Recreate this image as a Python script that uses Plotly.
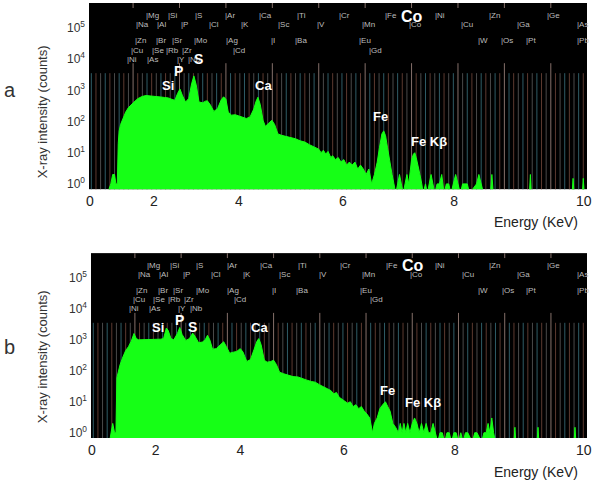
import plotly.graph_objects as go

# ---------------- data ----------------
energy_a = [0.45, 0.52, 0.56, 0.60, 0.63, 0.66, 0.68, 0.70, 0.73, 0.78, 0.84, 0.90, 0.96, 1.02, 1.10,
            1.20, 1.28, 1.36, 1.44, 1.52, 1.60, 1.68, 1.76, 1.84, 1.90, 1.96, 2.01, 2.06, 2.13, 2.20,
            2.26, 2.31, 2.36, 2.42, 2.50, 2.56, 2.60, 2.66, 2.74, 2.82, 2.90, 2.95, 3.00, 3.05, 3.12,
            3.20, 3.28, 3.36, 3.44, 3.52, 3.60, 3.65, 3.69, 3.74, 3.80, 3.85, 3.92, 3.99, 4.05, 4.12,
            4.20, 4.30, 4.40, 4.50, 4.60, 4.70, 4.80, 4.90, 5.00, 5.05, 5.10, 5.15, 5.20, 5.26, 5.30,
            5.36, 5.42, 5.48, 5.54, 5.60, 5.66, 5.72, 5.78, 5.84, 5.90, 5.96, 6.02, 6.08, 6.14, 6.20,
            6.26, 6.31, 6.36, 6.40, 6.44, 6.48, 6.53, 6.58, 6.62, 6.66, 6.70, 6.74, 6.78, 6.82, 6.86,
            6.90, 6.94, 6.97, 7.00, 7.04, 7.07, 7.10, 7.14, 7.18, 7.22, 7.25, 7.30, 7.34, 7.38, 7.42,
            7.46, 7.50, 7.55, 7.60, 7.65, 7.70, 7.75, 7.80, 7.85, 7.90, 7.95, 8.00, 8.05, 8.10, 8.20,
            8.25, 8.40, 8.45, 8.50, 8.55, 8.70, 8.73, 8.76, 9.54, 9.56, 9.58, 10.46, 10.48, 10.50,
            10.68, 10.70, 10.72]
counts_a = [0.5, 1, 2, 2, 1, 1, 20, 50, 80, 125, 200, 280, 350, 420, 540,
            640, 680, 670, 650, 630, 610, 590, 570, 510, 480, 800, 1100, 700, 420, 550,
            1600, 2900, 1500, 420, 400, 450, 460, 350, 210, 260, 500, 620, 520, 200, 160,
            165, 150, 140, 125, 140, 250, 450, 600, 350, 110, 70, 85, 110, 80, 40,
            36, 33, 30, 28, 24, 22, 18, 15, 13, 10, 12, 9, 11, 7, 8,
            6, 7, 5, 6, 4, 5, 4, 5, 3, 4, 3, 2, 3, 1, 2,
            5, 15, 40, 50, 35, 15, 5, 2, 1, 0.5, 1, 2, 1, 0.5, 1,
            2, 1, 3, 6, 9, 10, 7, 4, 2, 1, 0.5, 1, 0.5, 1, 2,
            1, 0.5, 1, 1, 2, 0.5, 1, 1, 0.5, 1, 2, 1, 0.5, 1, 1,
            0.5, 1, 2, 1, 0.5, 0.5, 2, 0.5, 0.5, 2, 0.5, 0.5, 1.5, 0.5,
            0.5, 1.5, 0.5]

energy_b = [0.45, 0.49, 0.52, 0.56, 0.59, 0.61, 0.64, 0.68, 0.74, 0.80, 0.86, 0.92, 0.98, 1.03, 1.08,
            1.16, 1.24, 1.32, 1.40, 1.48, 1.56, 1.62, 1.68, 1.72, 1.78, 1.84, 1.92, 1.97, 2.02, 2.10,
            2.18, 2.25, 2.30, 2.38, 2.46, 2.52, 2.57, 2.62, 2.68, 2.76, 2.86, 2.92, 2.98, 3.05, 3.13,
            3.20, 3.28, 3.34, 3.42, 3.50, 3.58, 3.64, 3.68, 3.73, 3.80, 3.86, 3.94, 4.00, 4.06, 4.13,
            4.22, 4.32, 4.42, 4.53, 4.62, 4.72, 4.82, 4.90, 5.00, 5.08, 5.16, 5.24, 5.30, 5.36, 5.42,
            5.48, 5.54, 5.60, 5.66, 5.72, 5.78, 5.84, 5.90, 5.96, 6.02, 6.08, 6.14, 6.18, 6.24, 6.30,
            6.36, 6.42, 6.47, 6.52, 6.58, 6.64, 6.70, 6.74, 6.78, 6.82, 6.86, 6.90, 6.95, 7.00, 7.05,
            7.10, 7.15, 7.20, 7.25, 7.30, 7.35, 7.40, 7.45, 7.50, 7.55, 7.60, 7.65, 7.70, 7.75, 7.80,
            7.85, 7.90, 7.95, 8.00, 8.05, 8.10, 8.15, 8.20, 8.30, 8.35, 8.40, 8.50, 8.55, 8.60, 8.64,
            8.68, 8.72, 8.76, 8.80, 9.20, 9.22, 9.24, 9.70, 9.72, 9.74, 10.50, 10.52, 10.54]
counts_b = [0.5, 1, 2, 1, 1, 60, 100, 160, 280, 450, 600, 900, 1600, 1100, 1000,
            1000, 1020, 1000, 1030, 1000, 1050, 1100, 2400, 2000, 1100, 1000, 1600, 2500, 1500, 950,
            1100, 1650, 1300, 800, 850, 1000, 1400, 1000, 500, 520, 700, 870, 600, 370, 400,
            420, 520, 400, 200, 230, 500, 900, 1100, 700, 220, 190, 200, 220, 160, 90,
            80, 72, 65, 63, 55, 50, 45, 43, 35, 30, 26, 23, 18, 20, 14,
            12, 11, 9, 10, 7, 8, 6, 7, 5, 4, 3, 1, 2, 3, 6,
            8, 10, 7, 5, 2, 1.5, 1, 2, 1, 2, 1, 2, 1, 2, 3,
            2, 1, 2, 1, 2, 1, 1, 2, 1, 0.5, 1, 1, 0.5, 1, 1,
            0.5, 1, 1, 0.5, 1, 0.5, 1, 1, 0.5, 1, 1, 0.5, 1, 1, 2,
            1, 3, 1, 0.5, 0.5, 1.5, 0.5, 0.5, 1.5, 0.5, 0.5, 1.5, 0.5]

# element marker labels (name, line energy keV, label row)
elem_names = ["Mg", "Si", "S", "Ar", "Ca", "Ti", "Cr", "Fe", "Ni", "Zn", "Ge",
              "Na", "Al", "P", "Cl", "K", "Sc", "V", "Mn", "Co", "Cu", "Ga", "As",
              "Zn", "Br", "Sr", "Mo", "Ag", "I", "Ba", "Eu", "W", "Os", "Pt", "Pb",
              "Cu", "Se", "Rb", "Zr", "Cd", "Gd",
              "Ni", "As", "Y", "Nb"]
elem_energy = [1.25, 1.74, 2.31, 2.96, 3.69, 4.51, 5.41, 6.40, 7.48, 8.64, 9.89,
               1.04, 1.49, 2.01, 2.62, 3.31, 4.09, 4.95, 5.90, 6.93, 8.05, 9.25, 10.54,
               1.01, 1.48, 1.81, 2.29, 2.98, 3.94, 4.47, 5.85, 8.40, 8.91, 9.44, 10.55,
               0.93, 1.38, 1.69, 2.04, 3.13, 6.06,
               0.85, 1.28, 1.92, 2.17]
elem_row = [1] * 11 + [2] * 12 + [3] * 12 + [4] * 6 + [5] * 4

# highlighted peak labels
peak_names = ["Si", "P", "S", "Ca", "Fe", "Fe K\u03b2", "Co"]

x_tick_text = ["0", "2", "4", "6", "8", "10"]
y_tick_vals = [1, 10, 100, 1000, 10000, 100000]
y_tick_text = ["10<sup>0</sup>", "10<sup>1</sup>", "10<sup>2</sup>", "10<sup>3</sup>",
               "10<sup>4</sup>", "10<sup>5</sup>"]

# ---------------- layout settings ----------------
x_tick_pos = [0.07, 1.45, 3.28, 5.52, 7.92, 10.71]   # where the labels sit on the energy axis
row_level = {1: 5.39, 2: 5.10, 3: 4.59, 4: 4.29, 5: 4.00}
peak_pos = {
    "a": [(1.75, 3.17, 13), (1.97, 3.62, 14), (2.40, 4.00, 14), (3.80, 3.17, 13),
          (6.33, 2.15, 13), (7.37, 1.35, 13), (7.02, 5.37, 16)],
    "b": [(1.50, 3.41, 13), (1.97, 3.64, 14), (2.25, 3.41, 14), (3.69, 3.41, 13),
          (6.46, 1.36, 13), (7.24, 0.97, 13), (7.02, 5.39, 16)],
}
GREEN = "#16ff16"
line_cols = ["#4a4a4a", "#2f5c66", "#5c3a30"]

fig = go.Figure()

panels = [("x", "y", energy_a, counts_a, "a"), ("x2", "y2", energy_b, counts_b, "b")]
for xa, ya, en, cn, tag in panels:
    # thin marker lines every 0.1 keV, taller ones at integer keV
    Mx, My = [], []
    cols = {c: ([], []) for c in line_cols}
    for i in range(1, 108):
        e = i / 10
        if i % 10 == 0:
            Mx += [e, e, None, e, e, None]
            My += [0.5, 10 ** 3.87, None, 10 ** 5.64, 10 ** 5.9, None]
        else:
            c = line_cols[i % 3]
            cols[c][0].extend([e, e, None])
            cols[c][1].extend([0.5, 10 ** 3.55, None])
    for c, (lx, ly) in cols.items():
        fig.add_trace(go.Scatter(x=lx, y=ly, mode="lines", line=dict(color=c, width=1),
                                 xaxis=xa, yaxis=ya, hoverinfo="skip", showlegend=False))
    fig.add_trace(go.Scatter(x=Mx, y=My, mode="lines", line=dict(color="#85706a", width=1),
                             xaxis=xa, yaxis=ya, hoverinfo="skip", showlegend=False))
    fig.add_trace(go.Scatter(x=en, y=cn, mode="lines", fill="tozeroy", fillcolor=GREEN,
                             line=dict(color=GREEN, width=1), xaxis=xa, yaxis=ya,
                             showlegend=False))

annotations = []
for xa, ya, en, cn, tag in panels:
    for nm, e, r in zip(elem_names, elem_energy, elem_row):
        annotations.append(dict(x=e, y=row_level[r], xref=xa, yref=ya, text="|" + nm,
                                showarrow=False, xanchor="left", yanchor="middle", xshift=-1,
                                font=dict(family="Arial", size=8, color="#bdbdbd")))
    for nm, (e, ly, sz) in zip(peak_names, peak_pos[tag]):
        annotations.append(dict(x=e, y=ly, xref=xa, yref=ya, text="<b>" + nm + "</b>",
                                showarrow=False, xanchor="center", yanchor="middle",
                                font=dict(family="Arial", size=sz, color="white")))

# titles and panel letters
for yc, lab, ey in [(0.749, "a", 0.80), (0.186, "b", 0.21)]:
    annotations.append(dict(x=-0.094, y=yc, xref="paper", yref="paper", textangle=-90,
                            xanchor="center", yanchor="middle",
                            text="X-ray intensity (counts)", showarrow=False,
                            font=dict(family="Arial", size=13, color="#333")))
    annotations.append(dict(x=-0.159, y=ey, xref="paper", yref="paper", text=lab,
                            xanchor="center", yanchor="middle", showarrow=False,
                            font=dict(family="Arial", size=20, color="#333")))
for ey in [0.497, -0.078]:
    annotations.append(dict(x=0.898, y=ey, xref="paper", yref="paper", text="Energy (KeV)",
                            xanchor="center", yanchor="middle", showarrow=False,
                            font=dict(family="Arial", size=14, color="#222")))

xcommon = dict(range=[0.05, 10.78], tickvals=x_tick_pos, ticktext=x_tick_text,
               showgrid=False, zeroline=False, showline=False, ticks="", automargin=False,
               tickfont=dict(family="Arial", size=14, color="#222"), ticklabelstandoff=2)
ycommon = dict(type="log", range=[-0.17, 5.8], tickvals=y_tick_vals, ticktext=y_tick_text,
               showgrid=False, zeroline=False, showline=False, ticks="", automargin=False,
               tickfont=dict(family="Arial", size=12, color="#333"), ticklabelstandoff=3)

fig.update_layout(
    width=600, height=486,
    margin=dict(l=89, r=13, t=3, b=48, autoexpand=False),
    paper_bgcolor="white", plot_bgcolor="black",
    xaxis=dict(domain=[0, 1], anchor="y", **xcommon),
    yaxis=dict(domain=[0.572, 1], anchor="x", **ycommon),
    xaxis2=dict(domain=[0.004, 1], anchor="y2", **xcommon),
    yaxis2=dict(domain=[0, 0.425], anchor="x2", **ycommon),
    annotations=annotations,
    showlegend=False,
)

fig.write_html("out.html", config={"displayModeBar": False},
               post_script="document.body.style.margin='0px';")
